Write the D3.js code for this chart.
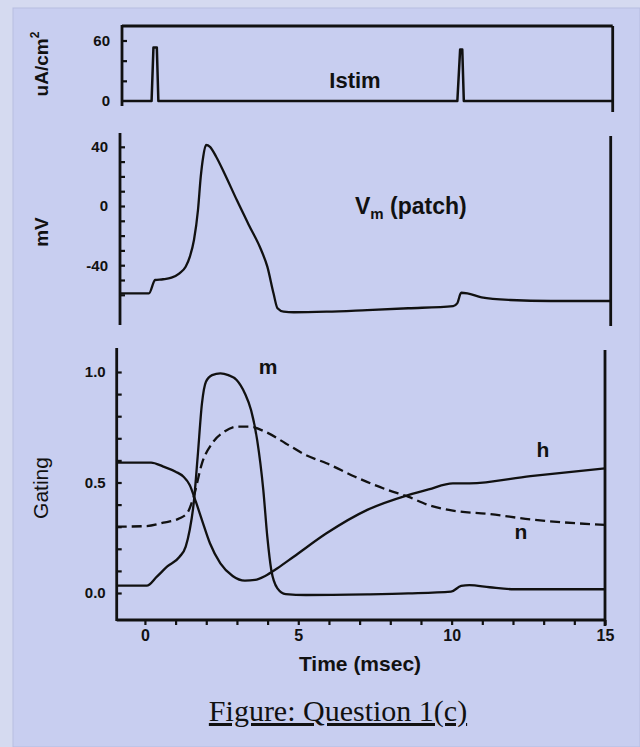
<!DOCTYPE html>
<html><head><meta charset="utf-8">
<script src="https://cdn.jsdelivr.net/npm/d3@7"></script>
<style>
html,body{margin:0;padding:0;background:#d3d8f2;}
svg{display:block;}
</style></head>
<body>
<script>
// ---- data ----
const stimT = [-0.92, 0.04, 0.10, 0.21, 0.26, 9.96, 10.05, 10.12, 10.17, 15];
const stimI = [0, 0, 53, 53, 0, 0, 51, 51, 0, 0];

const vT = [-0.92, 0.02, 0.22, 0.48, 0.75, 1.01, 1.21, 1.35, 1.48, 1.61, 1.70, 1.78, 1.87, 2.00, 2.20, 2.47, 2.87, 3.26, 3.66, 3.86, 4.06, 4.19, 4.39, 4.72, 5.78, 7.10, 8.43, 9.89, 10.02, 10.15, 10.35, 10.81, 11.74, 13.06, 15];
const vV = [-59, -59, -50, -49.5, -48.4, -45.5, -41, -34, -23, -2.7, 19.8, 33.3, 41.2, 40, 33.3, 22, 4, -12.8, -29.7, -41, -59, -69.1, -71.4, -71.8, -71.4, -70.3, -69.1, -67.6, -65.8, -58.6, -59, -61.7, -63.5, -64.2, -64.2];

const mT = [-0.92, 0.06, 0.39, 0.73, 1.13, 1.33, 1.46, 1.59, 1.72, 1.86, 1.99, 2.19, 2.46, 2.72, 2.99, 3.26, 3.46, 3.66, 3.86, 3.99, 4.12, 4.32, 4.59, 5.25, 7.25, 8.58, 9.98, 10.31, 10.58, 11.24, 12.04, 15];
const mG = [0.033, 0.033, 0.074, 0.12, 0.164, 0.21, 0.285, 0.405, 0.617, 0.858, 0.956, 0.986, 0.994, 0.986, 0.964, 0.903, 0.828, 0.692, 0.466, 0.255, 0.104, 0.021, -0.005, -0.009, -0.006, -0.002, 0.006, 0.032, 0.036, 0.026, 0.017, 0.017];

const hT = [-0.92, 0.2, 0.6, 1.0, 1.26, 1.46, 1.66, 1.86, 2.12, 2.46, 2.86, 3.26, 3.59, 3.92, 4.32, 4.85, 5.92, 7.25, 8.58, 9.25, 10.04, 10.58, 12.57, 15];
const hG = [0.59, 0.59, 0.572, 0.549, 0.526, 0.489, 0.413, 0.33, 0.225, 0.134, 0.077, 0.056, 0.059, 0.077, 0.112, 0.164, 0.27, 0.376, 0.443, 0.469, 0.496, 0.496, 0.529, 0.564];

const nT = [-0.92, 0.06, 0.6, 1.13, 1.39, 1.59, 1.86, 2.19, 2.59, 2.99, 3.39, 3.92, 4.59, 5.25, 5.92, 6.85, 7.92, 8.58, 9.25, 10.04, 11.24, 12.57, 15];
const nG = [0.30, 0.303, 0.318, 0.338, 0.364, 0.436, 0.587, 0.677, 0.73, 0.753, 0.753, 0.73, 0.677, 0.624, 0.587, 0.526, 0.466, 0.436, 0.398, 0.373, 0.357, 0.333, 0.308];

const stimTicks = [20, 40, 60];
const stimLabels = [0, 60];
const vTicks = [40, 30, 20, 10, 0, -10, -20, -30, -40, -50, -60];
const vLabels = [40, 0, -40];
const gTicks = [0, 0.1, 0.2, 0.3, 0.4, 0.5, 0.6, 0.7, 0.8, 0.9, 1.0];
const gLabels = [0, 0.5, 1.0];
const tTicks = d3.range(0, 16, 1);
const tLabels = [0, 5, 10, 15];

// ---- drawing ----
const W = 640, H = 747;
const SANS = '"Liberation Sans",Arial,Helvetica,sans-serif';
const SERIF = '"Liberation Serif","Times New Roman",serif';
const INK = "#111";
const svg = d3.select("body").append("svg").attr("width", W).attr("height", H);
svg.append("rect").attr("x", 0).attr("y", 0).attr("width", W).attr("height", H).attr("fill", "#d5daf0");
svg.append("rect").attr("x", 13).attr("y", 8).attr("width", W - 13).attr("height", H - 8)
  .attr("fill", "#c8cef0").attr("stroke", "#b7bde0").attr("stroke-width", 1);

const tDom = [-0.92, 15];
const AX = 2.8, LN = 2.3;

function txt(g, x, y, s, size, weight, anchor) {
  return g.append("text").attr("x", x).attr("y", y).attr("dy", "0.35em")
    .attr("text-anchor", anchor || "middle")
    .style("font-family", SANS).style("font-size", size + "px").style("font-weight", weight || "bold")
    .style("fill", INK).text(s);
}
function yAxis(g, scale, ticks, labels, fmt, x, pad) {
  const ax = d3.axisLeft(scale).tickValues(ticks).tickSize(-5).tickPadding(pad)
    .tickFormat(d => labels.some(l => Math.abs(l - d) < 1e-9) ? fmt(d) : "");
  const a = g.append("g").attr("transform", `translate(${x},0)`).call(ax);
  a.select(".domain").remove();
  a.selectAll(".tick line").attr("stroke", INK).attr("stroke-width", 2.2);
  a.selectAll(".tick text").style("font-size", "15px").style("font-family", SANS).style("font-weight", "bold").style("fill", INK);
}
function vline(g, x, y1, y2) {
  g.append("line").attr("x1", x).attr("x2", x).attr("y1", y1).attr("y2", y2).attr("stroke", INK).attr("stroke-width", AX);
}
function hline(g, x1, x2, y) {
  g.append("line").attr("x1", x1).attr("x2", x2).attr("y1", y).attr("y2", y).attr("stroke", INK).attr("stroke-width", AX);
}

// Top panel: Istim
{
  const x = d3.scaleLinear().domain(tDom).range([122, 612.7]);
  const y = d3.scaleLinear().domain([0, 60]).range([101, 40.5]);
  const g = svg.append("g");
  vline(g, 122, 25, 106);
  hline(g, 122, 612.7, 26);
  vline(g, 612.7, 26, 112);
  yAxis(g, y, stimTicks, stimLabels, d => String(d), 122, 12);
  txt(g, 110, y(0), "0", 15, "bold", "end");
  const line = d3.line().x((d, i) => x(stimT[i])).y(d => y(d));
  g.append("path").attr("d", line(stimI)).attr("fill", "none").attr("stroke", INK).attr("stroke-width", 2.5).attr("stroke-linejoin", "round");
  txt(g, 355, 80, "Istim", 22);
  const yl = g.append("text").attr("transform", "translate(41,64) rotate(-90)").attr("dy", "0.35em")
    .attr("text-anchor", "middle").style("font-family", SANS).style("font-size", "19px").style("font-weight", "bold").style("fill", INK);
  yl.append("tspan").text("uA/cm");
  yl.append("tspan").attr("dy", -9).style("font-size", "12px").text("2");
}

// Middle panel: Vm
{
  const x = d3.scaleLinear().domain(tDom).range([120, 610.7]);
  const y = d3.scaleLinear().domain([40, -60]).range([146.8, 294.8]);
  const g = svg.append("g");
  vline(g, 120, 133, 325);
  vline(g, 610.7, 136, 326);
  yAxis(g, y, vTicks, vLabels, d => String(d), 120, 12);
  const line = d3.line().x((d, i) => x(vT[i])).y(d => y(d)).curve(d3.curveMonotoneX);
  g.append("path").attr("d", line(vV)).attr("fill", "none").attr("stroke", INK).attr("stroke-width", LN).attr("stroke-linejoin", "round");
  const lab = g.append("text").attr("x", 355).attr("y", 214)
    .style("font-family", SANS).style("font-size", "23px").style("font-weight", "bold").style("fill", INK);
  lab.append("tspan").text("V");
  lab.append("tspan").attr("dy", 5).style("font-size", "15px").text("m");
  lab.append("tspan").attr("dy", -5).text(" (patch)");
  g.append("text").attr("transform", "translate(41,232) rotate(-90)").attr("dy", "0.35em")
    .attr("text-anchor", "middle").style("font-family", SANS).style("font-size", "19px").style("font-weight", "bold").style("fill", INK).text("mV");
}

// Bottom panel: gating
{
  const x = d3.scaleLinear().domain(tDom).range([116.7, 605]);
  const y = d3.scaleLinear().domain([0, 1]).range([593, 372]);
  const g = svg.append("g");
  vline(g, 116.7, 348, 621);
  hline(g, 116.7, 605, 620);
  vline(g, 605, 350, 626);
  yAxis(g, y, gTicks, gLabels, d3.format(".1f"), 116.7, 11);
  const xa = d3.axisBottom(x).tickValues(tTicks).tickSize(5).tickPadding(5)
    .tickFormat(d => tLabels.includes(d) ? d : "");
  const a = g.append("g").attr("transform", "translate(0,620)").call(xa);
  a.select(".domain").remove();
  a.selectAll(".tick line").attr("stroke", INK).attr("stroke-width", 2.2);
  a.selectAll(".tick text").style("font-size", "16px").style("font-family", SANS).style("font-weight", "bold").style("fill", INK);
  const mk = (T) => d3.line().x((d, i) => x(T[i])).y(d => y(d)).curve(d3.curveMonotoneX);
  g.append("path").attr("d", mk(mT)(mG)).attr("fill", "none").attr("stroke", INK).attr("stroke-width", LN);
  g.append("path").attr("d", mk(hT)(hG)).attr("fill", "none").attr("stroke", INK).attr("stroke-width", LN);
  g.append("path").attr("d", mk(nT)(nG)).attr("fill", "none").attr("stroke", INK).attr("stroke-width", LN).attr("stroke-dasharray", "10,5");
  txt(g, 268, 367, "m", 21);
  txt(g, 543, 450, "h", 21);
  txt(g, 521, 532, "n", 21);
  g.append("text").attr("transform", "translate(41,488) rotate(-90)").attr("dy", "0.35em")
    .attr("text-anchor", "middle").style("font-family", SANS).style("font-size", "21px").style("font-weight", "normal").style("fill", INK).text("Gating");
  txt(g, 360, 664, "Time (msec)", 21);
}

// caption
svg.append("text").attr("x", 338).attr("y", 721).attr("text-anchor", "middle")
  .style("font-family", SERIF).style("font-weight", "normal").style("fill", INK)
  .style("font-size", "30px").style("text-decoration", "underline").text("Figure: Question 1(c)");
</script>
</body></html>
